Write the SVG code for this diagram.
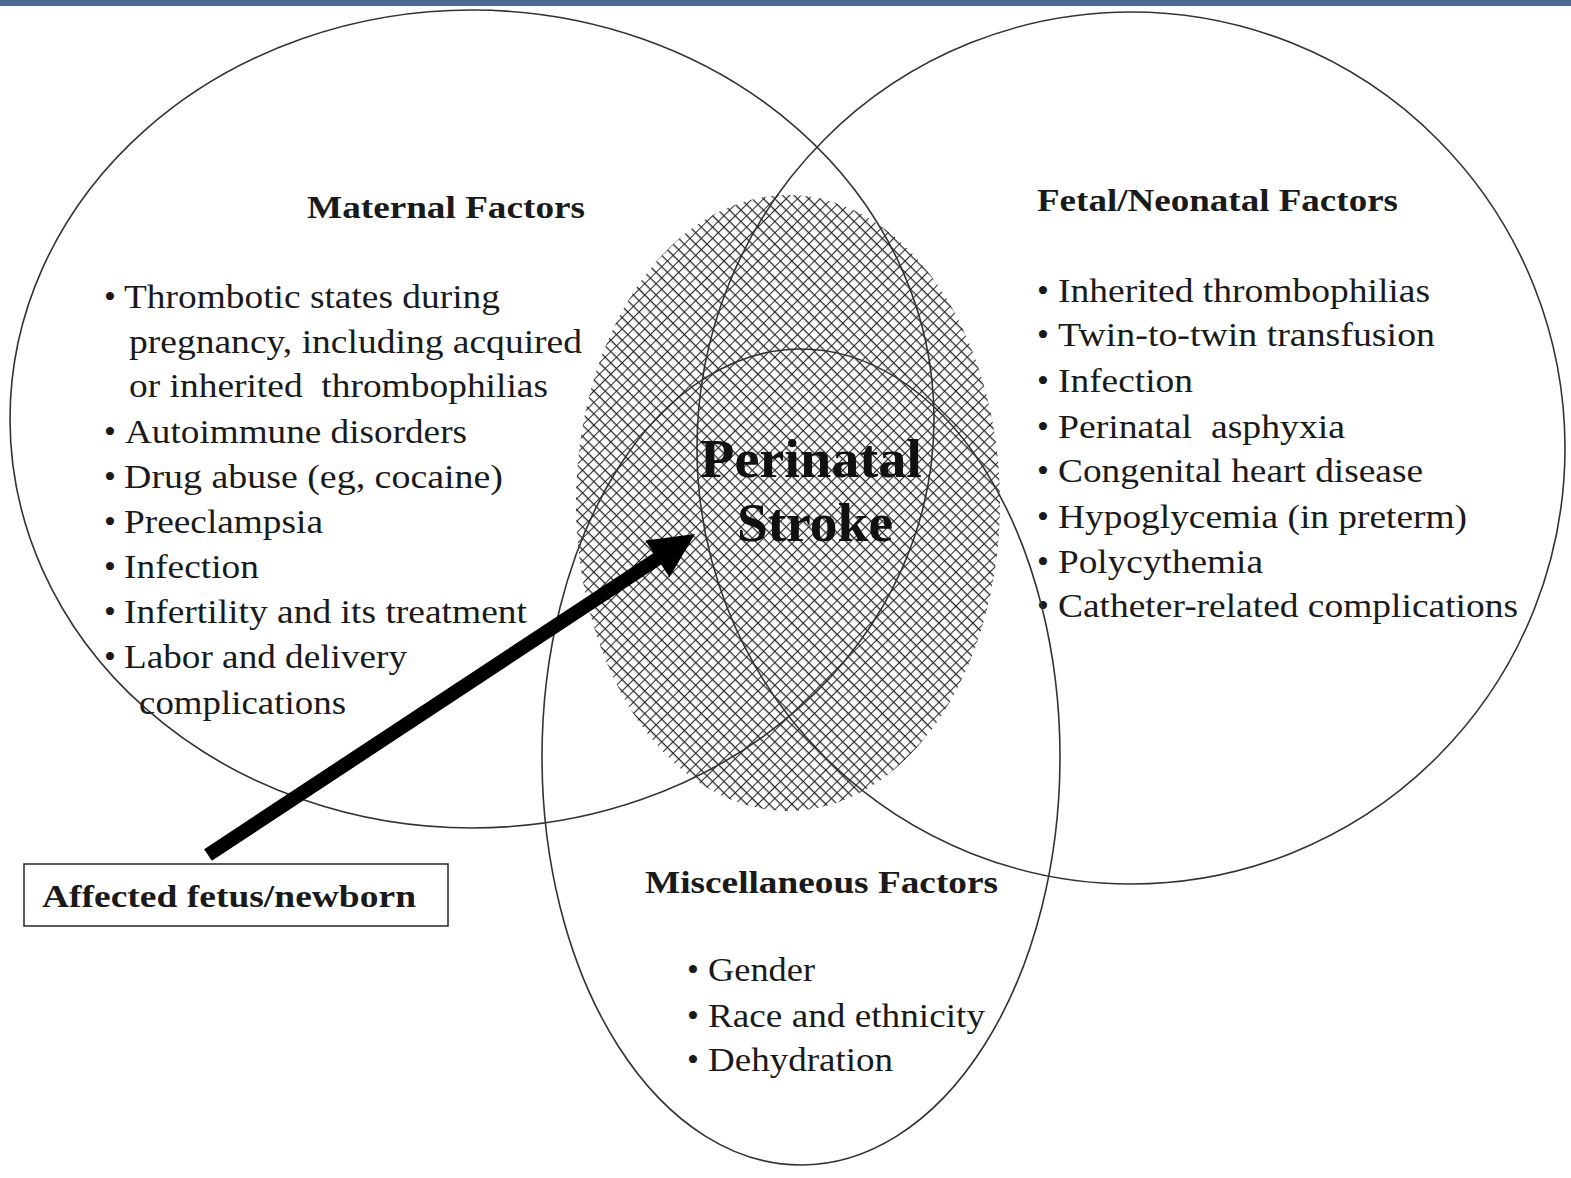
<svg xmlns="http://www.w3.org/2000/svg" width="1571" height="1178" viewBox="0 0 1571 1178">
<defs>
<style>
.ring{fill:none;stroke:#333;stroke-width:1.6}
.hd{font-family:'Liberation Serif','Times New Roman',Times,serif;font-weight:bold;font-size:32px;fill:#1a1a1a}
.it{font-family:'Liberation Serif','Times New Roman',Times,serif;font-size:34px;fill:#1a1a1a}
.big{font-family:'Liberation Serif','Times New Roman',Times,serif;font-weight:bold;font-size:54px;fill:#111;text-anchor:middle}
</style>
<pattern id="hatch" width="8" height="8" patternUnits="userSpaceOnUse" patternTransform="rotate(45)">
<rect width="8" height="8" fill="#fff"/>
<line x1="0" y1="0" x2="8" y2="0" stroke="#2a2a2a" stroke-width="2.6"/>
<line x1="0" y1="0" x2="0" y2="8" stroke="#2a2a2a" stroke-width="2"/>
</pattern>
</defs>
<rect width="1571" height="1178" fill="#fff"/>
<rect x="0" y="0" width="1571" height="6" fill="#4a6a92"/>
<g id="stroke-zone">
<ellipse cx="788" cy="503" rx="212" ry="308" fill="url(#hatch)"/>
</g>
<g id="maternal">
<ellipse class="ring" cx="472" cy="419" rx="462" ry="409"/>
<text class="hd" font-family="Liberation Serif" x="307" y="218" textLength="278" lengthAdjust="spacingAndGlyphs">Maternal Factors</text>
<g class="it" font-family="Liberation Serif">
<text x="104" y="308">•</text><text x="124" y="308" textLength="376" lengthAdjust="spacingAndGlyphs">Thrombotic states during</text>
<text x="129" y="353" textLength="453" lengthAdjust="spacingAndGlyphs">pregnancy, including acquired</text>
<text x="129" y="397" textLength="419" lengthAdjust="spacingAndGlyphs" xml:space="preserve">or inherited  thrombophilias</text>
<text x="104" y="443">•</text><text x="125" y="443" textLength="342" lengthAdjust="spacingAndGlyphs">Autoimmune disorders</text>
<text x="104" y="488">•</text><text x="124" y="488" textLength="379" lengthAdjust="spacingAndGlyphs">Drug abuse (eg, cocaine)</text>
<text x="104" y="533">•</text><text x="124" y="533" textLength="199" lengthAdjust="spacingAndGlyphs">Preeclampsia</text>
<text x="104" y="578">•</text><text x="124" y="578" textLength="135" lengthAdjust="spacingAndGlyphs">Infection</text>
<text x="104" y="623">•</text><text x="124" y="623" textLength="403" lengthAdjust="spacingAndGlyphs">Infertility and its treatment</text>
<text x="104" y="668">•</text><text x="124" y="668" textLength="283" lengthAdjust="spacingAndGlyphs">Labor and delivery</text>
<text x="139" y="714" textLength="207" lengthAdjust="spacingAndGlyphs">complications</text>
</g>
</g>
<g id="fetal">
<ellipse class="ring" cx="1131" cy="448" rx="434" ry="436"/>
<text class="hd" font-family="Liberation Serif" x="1037" y="211" textLength="361" lengthAdjust="spacingAndGlyphs">Fetal/Neonatal Factors</text>
<g class="it" font-family="Liberation Serif">
<text x="1037" y="302">•</text><text x="1058" y="302" textLength="372" lengthAdjust="spacingAndGlyphs">Inherited thrombophilias</text>
<text x="1037" y="346">•</text><text x="1058" y="346" textLength="377" lengthAdjust="spacingAndGlyphs">Twin-to-twin transfusion</text>
<text x="1037" y="392">•</text><text x="1058" y="392" textLength="135" lengthAdjust="spacingAndGlyphs">Infection</text>
<text x="1037" y="438">•</text><text x="1058" y="438" textLength="287" lengthAdjust="spacingAndGlyphs" xml:space="preserve">Perinatal  asphyxia</text>
<text x="1037" y="482">•</text><text x="1058" y="482" textLength="365" lengthAdjust="spacingAndGlyphs">Congenital heart disease</text>
<text x="1037" y="528">•</text><text x="1058" y="528" textLength="409" lengthAdjust="spacingAndGlyphs">Hypoglycemia (in preterm)</text>
<text x="1037" y="573">•</text><text x="1058" y="573" textLength="205" lengthAdjust="spacingAndGlyphs">Polycythemia</text>
<text x="1037" y="617">•</text><text x="1058" y="617" textLength="460" lengthAdjust="spacingAndGlyphs">Catheter-related complications</text>
</g>
</g>
<g id="misc">
<ellipse class="ring" cx="801" cy="757" rx="259" ry="408"/>
<text class="hd" font-family="Liberation Serif" x="645" y="893" textLength="353" lengthAdjust="spacingAndGlyphs">Miscellaneous Factors</text>
<g class="it" font-family="Liberation Serif">
<text x="687" y="981">•</text><text x="708" y="981" textLength="107" lengthAdjust="spacingAndGlyphs">Gender</text>
<text x="687" y="1027">•</text><text x="708" y="1027" textLength="277" lengthAdjust="spacingAndGlyphs">Race and ethnicity</text>
<text x="687" y="1071">•</text><text x="708" y="1071" textLength="185" lengthAdjust="spacingAndGlyphs">Dehydration</text>
</g>
</g>
<g id="perinatal-stroke">
<text class="big" font-family="Liberation Serif" x="811" y="477" textLength="222" lengthAdjust="spacingAndGlyphs">Perinatal</text>
<text class="big" font-family="Liberation Serif" x="815" y="541" textLength="156" lengthAdjust="spacingAndGlyphs">Stroke</text>
</g>
<g id="affected">
<rect x="24" y="864" width="424" height="62" fill="#fff" stroke="#333" stroke-width="1.6"/>
<text class="hd" font-family="Liberation Serif" x="42" y="907" textLength="374" lengthAdjust="spacingAndGlyphs">Affected fetus/newborn</text>
</g>
<g id="connectors">
<line x1="208" y1="855" x2="660" y2="557" stroke="#000" stroke-width="14"/>
<polygon points="695,534 669.5,577.2 645.3,540.4" fill="#000"/>
</g>
</svg>
